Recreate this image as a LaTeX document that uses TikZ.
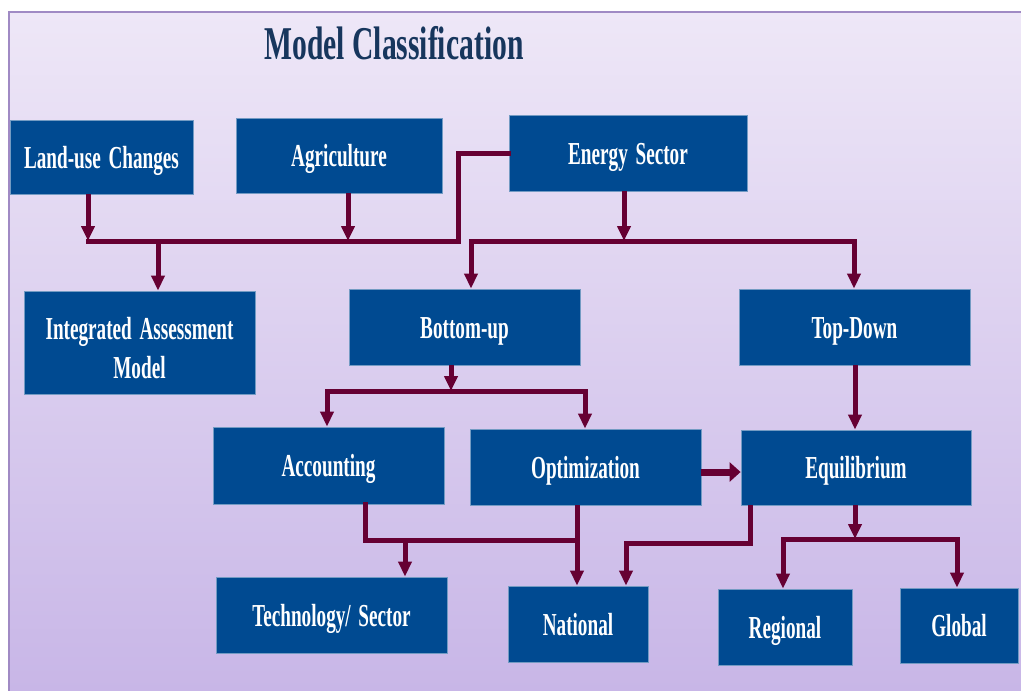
\documentclass[tikz,border=0pt]{standalone}
\usepackage{fontspec}
\usepackage{tikz}
\usetikzlibrary{arrows.meta,calc}
\newfontfamily\boxfont{Liberation Serif}[FakeStretch=0.6,WordSpace=1.6]
\newfontfamily\headfont{Liberation Serif}[FakeStretch=0.63]
\definecolor{boxblue}{RGB}{0,74,145}
\definecolor{wine}{RGB}{102,0,51}
\definecolor{navy}{RGB}{23,54,93}
\definecolor{lilactop}{RGB}{238,231,247}
\definecolor{lilacbot}{RGB}{200,182,231}
\definecolor{lilacedge}{RGB}{160,138,196}

\begin{document}
\begin{tikzpicture}[x=1pt,y=-1pt,
    box/.style={fill=boxblue,draw=boxblue!55!white,line width=0.8pt,inner sep=0pt,
      text=white,align=center,font=\boxfont\bfseries\fontsize{32}{39}\selectfont},
    onebox/.style={box,text height=28pt,text depth=6pt},
    link/.style={draw=wine,line width=5pt,line cap=rect},
    flow/.style={draw=wine,line width=5pt,-{Triangle[length=15pt,width=13pt]}},
    bigflow/.style={draw=wine,line width=7pt,-{Triangle[length=11pt,width=19pt]}}]
    \fill[white] (0,0) rectangle (1021,691);
    \useasboundingbox (0,0) rectangle (1021,691);
    \fill[top color=lilactop,bottom color=lilacbot] (9,12) rectangle (1021,691);
    \draw[lilacedge,line width=1.5pt] (9,691) -- (9,12) -- (1021,12);

    \node [font=\headfont\bfseries\fontsize{47}{50}\selectfont,text=navy] (0) at (394,43) {Model Classification};

    % boxes
    \node [onebox,minimum width=183pt,minimum height=74pt] (1) at (101.5,157) {Land-use Changes};
    \node [onebox,minimum width=206pt,minimum height=75pt] (2) at (339,155.5) {Agriculture};
    \node [onebox,minimum width=238pt,minimum height=76pt] (3) at (628,153) {Energy Sector};
    \node [box,minimum width=231pt,minimum height=103pt] (4) at (139.5,342.5) {\rule{0pt}{33pt}Integrated Assessment\\Model};
    \node [onebox,minimum width=231pt,minimum height=76pt] (5) at (464.5,327) {Bottom-up};
    \node [onebox,minimum width=231pt,minimum height=76pt] (6) at (854.5,327) {Top-Down};
    \node [onebox,minimum width=231pt,minimum height=77pt] (7) at (328.5,465.5) {Accounting};
    \node [onebox,minimum width=231pt,minimum height=76pt] (8) at (585.5,467) {Optimization};
    \node [onebox,minimum width=230pt,minimum height=75pt] (9) at (856,467.5) {Equilibrium};
    \node [onebox,minimum width=231pt,minimum height=76pt] (10) at (331.5,615) {Technology/ Sector};
    \node [onebox,minimum width=140pt,minimum height=76pt] (11) at (578,624) {National};
    \node [onebox,minimum width=134pt,minimum height=76pt] (12) at (785,627) {Regional};
    \node [onebox,minimum width=118pt,minimum height=75pt] (13) at (959,625.5) {Global};

    % junctions
    \coordinate (a) at (88,241);
    \coordinate (b) at (410,241);
    \coordinate (c) at (458,241);
    \coordinate (d) at (348,241);
    \coordinate (e) at (158,241);
    \coordinate (f) at (624,241);
    \coordinate (g) at (471,241);
    \coordinate (h) at (854,241);
    \coordinate (i) at (451,391);
    \coordinate (j) at (327,391);
    \coordinate (k) at (585,391);
    \coordinate (l) at (365,540);
    \coordinate (m) at (577,540);
    \coordinate (n) at (405,540);
    \coordinate (o) at (750,543);
    \coordinate (p) at (626,543);
    \coordinate (q) at (855,539);
    \coordinate (r) at (783,539);
    \coordinate (s) at (957,539);

    % upper bar
    \draw[link] (a) -- (b);
    \draw[flow] (1.south -| a) -- (a);
    \draw[flow] (2.south -| d) -- (d);
    \draw[flow] (e) -- (e |- 4.north);
    \draw[link] (3.west) -| (c) -- (b);

    % energy sector
    \draw[flow] (3.south -| f) -- (f);
    \draw[link] (g) -- (h);
    \draw[flow] (g) -- (g |- 5.north);
    \draw[flow] (h) -- (h |- 6.north);

    % bottom-up
    \draw[flow] (5.south -| i) -- (i);
    \draw[link] (j) -- (k);
    \draw[flow] (j) -- (j |- 7.north);
    \draw[flow] (k) -- (k |- 8.north);
    \draw[bigflow] ([yshift=-5pt]8.east) -- ([yshift=-5pt]8.east -| 9.west);

    % top-down
    \draw[flow] (6.south -| q) -- (q |- 9.north);

    % lower links
    \draw[link] (7.south -| l) -- (l) -- (m);
    \draw[flow] (m |- 8.south) -- (m |- 11.north);
    \draw[flow] (n) -- (n |- 10.north);
    \draw[flow] (9.south -| o) -- (o) -- (p) -- (p |- 11.north);
    \draw[flow] (9.south -| q) -- (q);
    \draw[link] (r) -- (s);
    \draw[flow] (r) -- (r |- 12.north);
    \draw[flow] (s) -- (s |- 13.north);

  \end{tikzpicture}
\end{document}
